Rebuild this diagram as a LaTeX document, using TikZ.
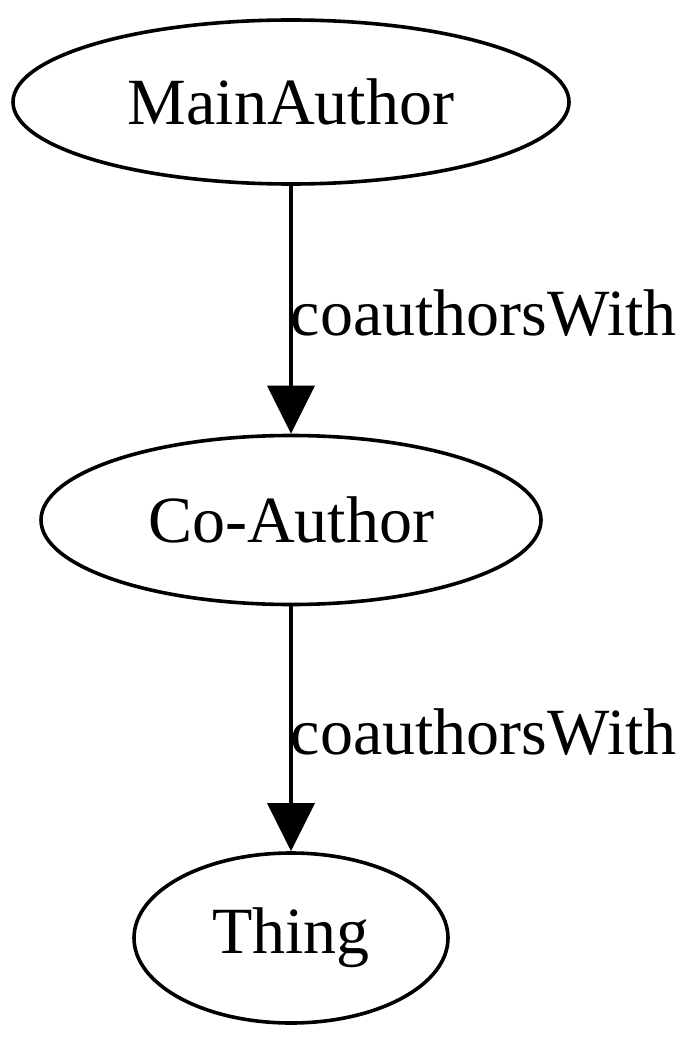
\documentclass[tikz,border=0pt]{standalone}
\usepackage{fontspec}
\setmainfont{Liberation Serif}
\usetikzlibrary{shapes.geometric,arrows.meta}
\begin{document}
\begin{tikzpicture}[x=1pt,y=-1pt,
  ell/.style={ellipse,draw,line width=3.6pt,inner sep=0pt,font=\fontsize{66}{78}\selectfont},
  edge/.style={line width=3.6pt,-{Triangle[length=48pt,width=47pt]}},
  lbl/.style={anchor=west,inner sep=0pt,font=\fontsize{66}{78}\selectfont}]
\useasboundingbox (0,0) rectangle (700,1043);
\node[ell,minimum width=556pt,minimum height=164pt] (m) at (291,102) {MainAuthor};
\node[ell,minimum width=500pt,minimum height=169pt] (c) at (291,520) {Co-Author};
\node[ell,minimum width=314pt,minimum height=170pt] (t) at (291,938) {Thing};
\draw[edge] (m.south) -- (c.north) node[midway,lbl,xshift=-2pt,yshift=-3pt] (l1) {coauthorsWith};
\draw[edge] (c.south) -- (t.north) node[midway,lbl,xshift=-2pt,yshift=-3pt] (l2) {coauthorsWith};
\end{tikzpicture}
\end{document}
